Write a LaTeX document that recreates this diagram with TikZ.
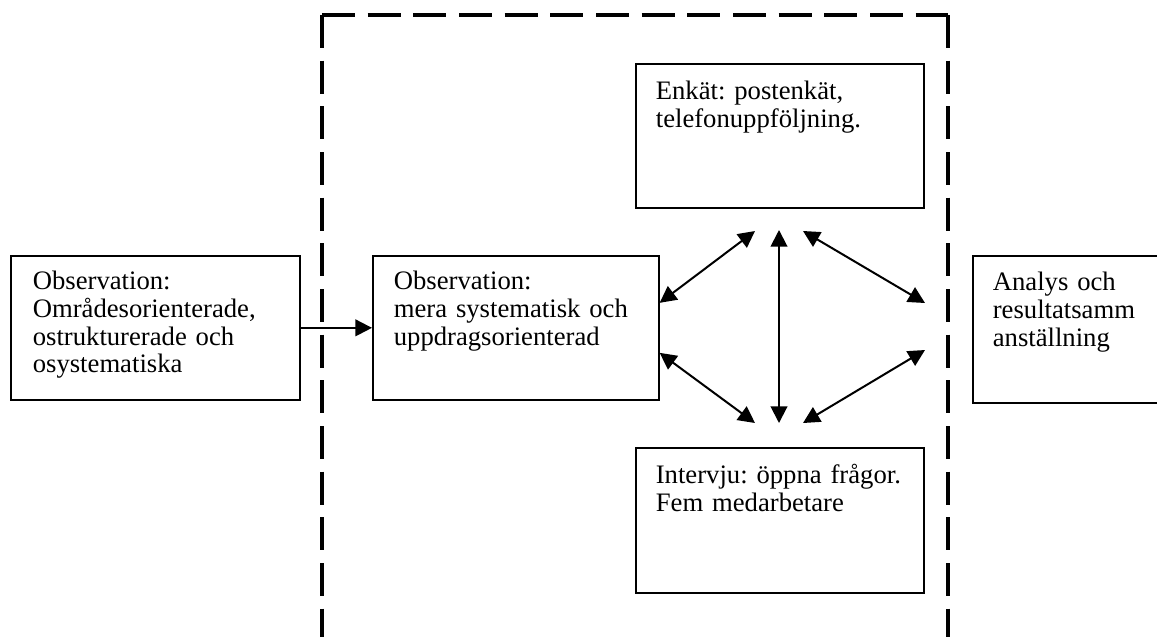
\documentclass[tikz,border=0pt]{standalone}
\usepackage{fontspec}
\setmainfont{Liberation Serif}
\usetikzlibrary{arrows.meta}

\begin{document}
\begin{tikzpicture}[
            x = 0.6pt, y = -0.6pt, % pixel grid, y runs downwards
            > = {Triangle[length=10pt,width=10pt]}, % arrow head style
            line width = 1.2pt, % line style
            font = \fontsize{16}{16.6}\selectfont\frenchspacing
        ]

        \tikzstyle{box}=[
            draw = black,
            line width = 1pt,
            anchor = north west,
            align = left,
            inner ysep = 0pt,
            inner xsep = 12pt
        ]
        \tikzstyle{frame}=[
            line width = 2.4pt,
            dash pattern = on 19.8pt off 7.6pt
        ]

        \useasboundingbox (0,0) rectangle (1157,636);
        \clip (0,0) rectangle (1157,636);

        % dashed frame, open at the bottom
        \draw[frame] (322,15) -- (322,660);
        \draw[frame] (322,15) -- (948,15);
        \draw[frame] (948,15) -- (948,660);

        \node[box, inner xsep=13.2pt, text width=147pt, text height=20.4pt, text depth=66pt] (obsfree) at (10,255) {Observation:\\Områdesorienterade,\\ostrukturerade och\\osystematiska};
        \node[box, inner xsep=12.6pt, text width=146.4pt, text height=20.4pt, text depth=66pt] (obsmid) at (372,255) {Observation:\\mera systematisk och\\uppdragsorienterad};
        \node[box, text width=148.8pt, text height=21.6pt, text depth=64.8pt] (enkat) at (635,63) {Enkät: postenkät,\\telefonuppföljning.};
        \node[box, text width=148.8pt, text height=21.6pt, text depth=65.4pt] (intervju) at (635,447) {Intervju: öppna frågor.\\Fem medarbetare};
        \node[box, text width=200pt, text height=21pt, text depth=67.2pt] (analys) at (972,255) {Analys och\\resultatsamm\\anställning};

        % free arrow ends
        \coordinate (enkL) at (755,231);
        \coordinate (enkM) at (779,230);
        \coordinate (enkR) at (803,231);
        \coordinate (intL) at (755,423);
        \coordinate (intM) at (779,423);
        \coordinate (intR) at (803,423);
        \coordinate (anaT) at (925,303);
        \coordinate (anaB) at (925,350);

        \path[->] (obsfree) edge (obsmid);
        \path[<->] ([yshift=15pt]obsmid.east) edge (enkL);
        \path[<->] ([yshift=-15pt]obsmid.east) edge (intL);
        \path[<->] (enkM) edge (intM);
        \path[<->] (enkR) edge (anaT);
        \path[<->] (intR) edge (anaB);
    \end{tikzpicture}
\end{document}
